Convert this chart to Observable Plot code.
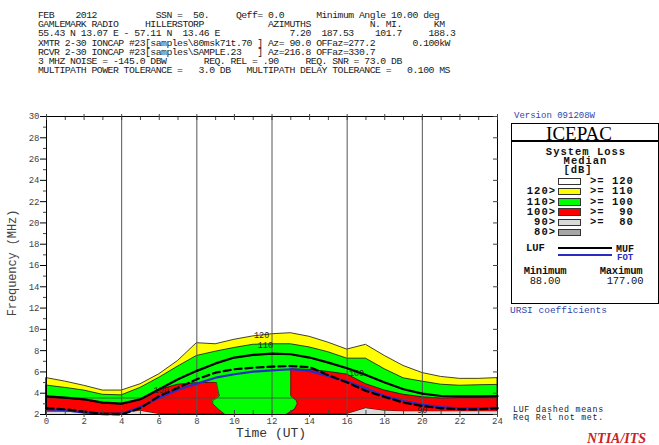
<!DOCTYPE html>
<html><head><meta charset="utf-8">
<script src="https://cdn.jsdelivr.net/npm/d3@7"></script>
<script src="https://cdn.jsdelivr.net/npm/@observablehq/plot@0.6"></script>
<style>
html,body{margin:0;padding:0;background:#fff;}
#wrap{position:relative;width:659px;height:445px;overflow:hidden;background:#fff;}
#wrap svg{position:absolute;left:0;top:0;}
.t{position:absolute;white-space:pre;line-height:1;font-family:"Liberation Mono","DejaVu Sans Mono",monospace;color:#222;}
</style></head><body>
<div id="wrap"></div>
<script>
// ---- data ----
const hours   = [0,1,2,3,4,5,6,7,8,9,10,11,12,13,14,15,16,17,18,19,20,21,22,23,24];
const loss120 = [5.42,5.09,4.7,4.25,4.25,4.84,5.78,7.03,8.7,8.6,9.02,9.34,9.54,9.64,9.3,8.75,8.1,8.55,7.5,6.56,5.9,5.53,5.35,5.35,5.42];
const loss110 = [4.72,4.5,4.25,3.85,3.8,4.5,5.45,6.5,7.5,7.9,8.25,8.55,8.6,8.6,8.3,7.85,7.25,7.25,6.25,5.4,5.09,4.8,4.7,4.75,4.78];
const loss100 = [3.62,3.5,3.35,3.03,2.95,3.35,4.3,4.8,4.95,5.0,5.5,5.9,6.1,6.25,6.2,6.0,5.75,4.85,4.25,3.85,3.62,3.5,3.55,3.55,3.55];
const loss90  = [2.2,2.2,2.15,2.1,2.1,2.3,2.0,2.0,2.0,2.0,2.0,2.0,2.0,2.0,2.0,2.0,2.0,2.55,2.3,2.25,2.25,2.25,2.25,2.25,2.25];
const muf     = [3.71,3.58,3.43,3.11,3.02,3.43,4.37,5.31,6.1,6.8,7.35,7.6,7.72,7.66,7.35,6.87,6.35,5.72,5.0,4.37,3.96,3.74,3.7,3.7,3.72];
const fot     = [2.49,2.4,2.17,2.03,2.05,2.7,3.58,4.32,4.9,5.46,5.78,6.03,6.15,6.25,6.1,5.6,5.1,4.45,3.74,3.27,2.93,2.7,2.58,2.58,2.62];
const luf     = [2.58,2.49,2.27,2.05,2.0,2.6,3.74,4.52,5.31,5.93,6.25,6.4,6.5,6.55,6.45,5.7,5.0,4.21,3.65,3.11,2.8,2.58,2.49,2.49,2.58];
// green window inside the red region (frequency -> left/right hour)
const patchF = [2.0,2.5,3.0,3.3,3.75,4.5,5.0,5.05,6.35];
const patchL = [9.5,9.15,8.85,8.85,9.2,9.1,9.05,8.5,8.5];
const patchR = [12.75,13.2,13.35,13.3,13.0,13.0,13.0,13.0,13.0];
// contour labels
const labelText = ["120","110","100","100","90"];
const labelH    = [11.45,11.65,6.1,16.5,20.0];
const labelF    = [9.45,8.55,4.28,5.87,2.4];
// axes
const xLabelTicks = [0,2,4,6,8,10,12,14,16,18,20,22,24];
const xMinorTicks = hours;
const yLabelTicks = [2,4,6,8,10,12,14,16,18,20,22,24,26,28,30];
const yMinorTicks = [3,5,7,9,11,13,15,17,19,21,23,25,27,29];
const gridHours = [4,8,12,16,20];
const refFreq = [3.55];
// legend
const legendLeft  = ["", "120>", "110>", "100>", "90>", "80>"];
const legendRight = [">= 120", ">= 110", ">= 100", ">=  90", ">=  80", ""];
const legendColors = ["#ffffff", "#ffff00", "#00ff00", "#ff0000", "#d9d9d9", "#a6a6a6"];
const headerLines = [
  "FEB    2012           SSN =  50.     Qeff= 0.0      Minimum Angle 10.00 deg",
  "GAMLEMARK RADIO     HILLERSTORP            AZIMUTHS           N. MI.      KM",
  "55.43 N 13.07 E - 57.11 N  13.46 E             7.20  187.53    101.7     188.3",
  "XMTR 2-30 IONCAP #23[samples\\80msk71t.70 ] Az= 90.0 OFFaz=277.2       0.100kW",
  "RCVR 2-30 IONCAP #23[samples\\SAMPLE.23   ] Az=216.8 OFFaz=330.7",
  "3 MHZ NOISE = -145.0 DBW       REQ. REL = .90     REQ. SNR = 73.0 DB",
  "MULTIPATH POWER TOLERANCE =   3.0 DB   MULTIPATH DELAY TOLERANCE =   0.100 MS"
];

const rows = hours.map((h, i) => ({h, a: loss120[i], b: loss110[i], c: loss100[i], d: loss90[i], muf: muf[i], fot: fot[i], luf: luf[i]}));
const patch = patchF.map((f, i) => ({f, l: patchL[i], r: patchR[i]}));
const patchEdges = [
  ...patch.filter(p => p.f <= 5.0).map(p => ({side: "L", x: p.l, y: p.f})),
  ...patch.filter(p => p.f <= 5.0).map(p => ({side: "R", x: p.r, y: p.f})),
  {side: "R", x: patchR[patchR.length - 1], y: loss100[13]}
];
const labels = labelText.map((t, i) => ({t, h: labelH[i], f: labelF[i]}));

const mono = "Liberation Mono, DejaVu Sans Mono, monospace";
const chart = Plot.plot({
  width: 659, height: 445,
  marginLeft: 46, marginRight: 162, marginTop: 116, marginBottom: 31,
  x: {domain: [0, 24]},
  y: {domain: [2, 30]},
  style: {fontFamily: mono, fontSize: "9px", background: "transparent", color: "#444"},
  marks: [
    Plot.areaY(rows, {x: "h", y1: 2, y2: "a", fill: "#ffff00", stroke: "#111", strokeWidth: 0.8}),
    Plot.areaY(rows, {x: "h", y1: 2, y2: "b", fill: "#00ff00", stroke: "#111", strokeWidth: 0.8}),
    Plot.areaY(rows, {x: "h", y1: "d", y2: "c", fill: "#ff0000", stroke: "#111", strokeWidth: 0.8}),
    Plot.areaY(rows, {x: "h", y1: 2, y2: "d", fill: "#d9d9d9"}),
    Plot.areaX(patch, {y: "f", x1: "l", x2: "r", fill: "#00ff00"}),
    Plot.line(patchEdges, {x: "x", y: "y", z: "side", stroke: "#222", strokeWidth: 0.7}),
    Plot.ruleX(gridHours, {stroke: "#555", strokeWidth: 1}),
    Plot.ruleY(refFreq, {stroke: "#444", strokeWidth: 0.8}),
    Plot.line(rows, {x: "h", y: "muf", stroke: "#000", strokeWidth: 2.2}),
    Plot.line(rows, {x: "h", y: "fot", stroke: "#2a2ac4", strokeWidth: 2.2}),
    Plot.line(rows, {x: "h", y: "luf", stroke: "#000", strokeWidth: 2.2, strokeDasharray: "7,4"}),
    Plot.text(labels, {x: "h", y: "f", text: "t", fontSize: 8.5, fill: "#222", fontFamily: mono}),
    Plot.frame({stroke: "#000", strokeWidth: 1}),
    Plot.axisY({ticks: yLabelTicks, tickSize: 6, tickPadding: 1, fontSize: 9, label: null, stroke: "#000"}),
    Plot.axisY({ticks: yMinorTicks, tickSize: 3, tickFormat: () => "", label: null}),
    Plot.axisY({anchor: "right", ticks: yLabelTicks, tickSize: -5, tickFormat: () => "", label: null}),
    Plot.axisX({ticks: xLabelTicks, tickSize: 0, tickPadding: 3, fontSize: 9, label: null}),
    Plot.axisX({ticks: xMinorTicks, tickSize: -4, tickFormat: () => "", label: null}),
    Plot.axisX({ticks: xLabelTicks, tickSize: 3, tickFormat: () => "", label: null}),
    Plot.axisX({anchor: "top", ticks: xMinorTicks, tickSize: -3, tickFormat: () => "", label: null}),
    Plot.axisX({anchor: "top", ticks: xLabelTicks, tickSize: 3, tickFormat: () => "", label: null})
  ]
});

const wrap = document.getElementById("wrap");
wrap.appendChild(chart);

function addText(txt, x, y, style = {}, anchor = "start", rot = "") {
  const d = document.createElement("div");
  d.className = "t";
  d.textContent = txt;
  Object.assign(d.style, style);
  d.style.left = x + "px";
  d.style.top = y + "px";
  const tx = anchor === "middle" ? "-50%" : anchor === "end" ? "-100%" : "0";
  d.style.transform = `translate(${tx},-50%)` + (rot ? ` rotate(${rot})` : "");
  wrap.appendChild(d);
  return d;
}
function addBox(x, y, w, h, style) {
  const d = document.createElement("div");
  d.style.position = "absolute";
  d.style.left = x + "px"; d.style.top = y + "px";
  d.style.width = w + "px"; d.style.height = h + "px";
  d.style.boxSizing = "border-box";
  Object.assign(d.style, style);
  wrap.appendChild(d);
  return d;
}

// header
const headerY = [16, 25.2, 34.4, 43.5, 52.7, 61.9, 71];
headerLines.forEach((s, i) => addText(s, 38, headerY[i], {fontSize: "9.8px", letterSpacing: "-0.53px", color: "#1a1a1a", lineHeight: "8px"}));

// axis titles
addText("Frequency (MHz)", 13, 263, {fontSize: "12px", letterSpacing: "-0.1px", color: "#444"}, "middle", "-90deg");
addText("Time (UT)", 271, 433, {fontSize: "13px", color: "#333", lineHeight: "9px"}, "middle");

// legend panel
addText("Version 091208W", 514, 116, {fontSize: "9px", color: "#3344aa"});
addBox(511, 123, 148, 181, {border: "1.5px solid #000"});
addBox(511, 140, 148, 1.5, {background: "#000"});
addText("ICEPAC", 579, 132.5, {fontFamily: "Liberation Serif, serif", fontSize: "19px", color: "#000"}, "middle");
const lg = {fontSize: "10.5px", fontWeight: "bold", letterSpacing: "1px", color: "#111", lineHeight: "8px"};
addText("System Loss", 586, 151.5, lg, "middle");
addText("Median", 585.5, 160.8, lg, "middle");
addText("[dB]", 578, 170.2, lg, "middle");
legendColors.forEach((c, i) => {
  const y = 181 + 10.25 * i;
  addBox(558, y - 3.5, 23, 7.5, {background: c, border: "1px solid #333"});
  if (legendLeft[i]) addText(legendLeft[i], 556, y, lg, "end");
  if (legendRight[i]) addText(legendRight[i], 590, y, lg);
});
addText("LUF", 526, 247.7, {fontSize: "10.5px", fontWeight: "bold", color: "#111", lineHeight: "7px"});
addBox(558, 247, 54, 2.2, {background: "#000"});
addText("MUF", 616, 248.5, {fontSize: "10px", fontWeight: "bold", color: "#111", lineHeight: "7px"});
addBox(558, 254.3, 54, 2.2, {background: "#2a2ac4"});
addText("FOT", 617, 257.5, {fontSize: "9px", fontWeight: "bold", color: "#2a2ac4", lineHeight: "7px"});
const mm = {fontSize: "10.5px", letterSpacing: "-0.2px", color: "#111", lineHeight: "7px"};
addText("Minimum", 545, 271.2, {...mm, fontWeight: "bold"}, "middle");
addText("Maximum", 621, 271.2, {...mm, fontWeight: "bold"}, "middle");
addText("88.00", 545, 280.8, mm, "middle");
addText("177.00", 625, 280.8, mm, "middle");
addText("URSI coefficients", 510, 310.7, {fontSize: "9.5px", color: "#3344aa"});
addText("LUF dashed means", 513, 410, {fontSize: "8.3px", letterSpacing: "0.7px", color: "#222", lineHeight: "6px"});
addText("Req Rel not met.", 513, 417.5, {fontSize: "8.3px", letterSpacing: "0.7px", color: "#222", lineHeight: "6px"});
addText("NTIA/ITS", 587, 439, {fontFamily: "Liberation Serif, serif", fontSize: "14px", fontWeight: "bold", fontStyle: "italic", color: "#cc2222"});
</script>
</body></html>
